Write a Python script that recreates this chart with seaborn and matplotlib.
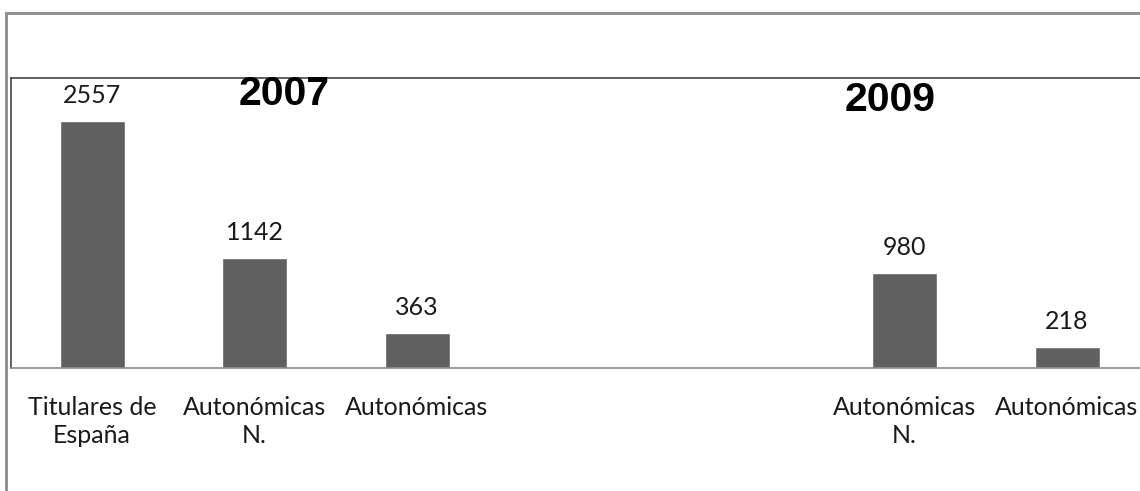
import numpy as np
import pandas as pd
import matplotlib
matplotlib.use("Agg")
import matplotlib.pyplot as plt
import seaborn as sns
from matplotlib.patches import Rectangle

# ---- data ----
slots = ["s0", "s1", "s2", "s3", "s4", "s5", "s6"]
tick_labels = ["Titulares de\nEspaña", "Autonómicas\nN.", "Autonómicas", "", "",
               "Autonómicas\nN.", "Autonómicas"]
values = [2557, 1142, 363, np.nan, np.nan, 980, 218]
year_labels = ["2007", "2009"]

df = pd.DataFrame({"slot": slots, "value": values})

sns.set_theme(style="white")
plt.rcParams["font.family"] = ["Lato", "DejaVu Sans"]

fig = plt.figure(figsize=(11.4, 4.91), dpi=100)
W, H = 1140, 491
ax = fig.add_axes([10.75 / W, (H - 368) / H, 7 * 162.5 / W, (368 - 78) / H])

sns.barplot(data=df, x="slot", y="value", order=slots, color="#606060",
            width=0.4, saturation=1, ax=ax, errorbar=None)

ax.set_xlim(-0.5, 6.5)
ax.set_ylim(0, 3000)
ax.set_xlabel("")
ax.set_ylabel("")
ax.set_yticks([])
ax.set_xticks(range(len(slots)))
ax.set_xticklabels(tick_labels, fontsize=18, color="#1a1a1a", linespacing=1.3)
ax.tick_params(axis="x", length=0, pad=20)

for c in ax.containers:
    labs = ["" if np.isnan(v) else f"{int(v)}" for v in c.datavalues]
    ax.bar_label(c, labels=labs, padding=10, fontsize=18, color="#1a1a1a")

for s in ["left", "top"]:
    ax.spines[s].set_color("#444444")
    ax.spines[s].set_linewidth(1.2)
ax.spines["bottom"].set_color("#8a8a8a")
ax.spines["bottom"].set_linewidth(1.2)
ax.spines["right"].set_visible(False)

ax.text(1.18, 2830, year_labels[0], ha="center", va="center", fontsize=29.5,
        fontweight="bold", family="Liberation Sans", color="black")
ax.text(4.91, 2775, year_labels[1], ha="center", va="center", fontsize=29.5,
        fontweight="bold", family="Liberation Sans", color="black")

fig.add_artist(Rectangle((6 / W, -0.2), 1.5, (H - 13) / H + 0.2,
                         transform=fig.transFigure, fill=False,
                         edgecolor="#8c8c8c", linewidth=2))

fig.savefig("out.png", dpi=100)
